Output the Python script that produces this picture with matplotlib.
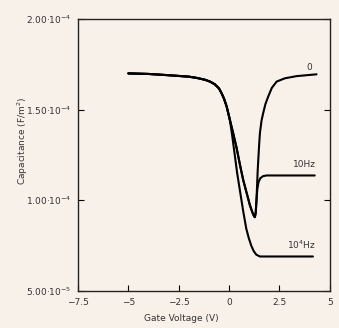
import numpy as np
import matplotlib
matplotlib.use('Agg')
import matplotlib.pyplot as plt

# Gate voltage (V) / capacitance (units of 1e-4 F/m^2)
v_shared = [-5.0, -4.0, -3.0, -2.0, -1.6, -1.2, -0.95, -0.71, -0.5, -0.37, -0.25, -0.12, 0.04]
c_shared = [1.70, 1.697, 1.69, 1.682, 1.675, 1.665, 1.655, 1.640, 1.617, 1.590, 1.56, 1.517, 1.443]

v_0 = v_shared + [0.20, 0.37, 0.55, 0.70, 0.87, 1.03, 1.15, 1.24, 1.28, 1.32, 1.36, 1.42, 1.49,
                  1.53, 1.61, 1.69, 1.80, 1.94, 2.12, 2.36, 2.77, 3.35, 4.34]
c_0 = c_shared + [1.371, 1.29, 1.19, 1.112, 1.041, 0.974, 0.935, 0.912, 0.907, 0.93, 1.002, 1.167,
                  1.305, 1.371, 1.44, 1.48, 1.53, 1.572, 1.62, 1.655, 1.673, 1.685, 1.695]

v_10 = v_shared + [0.20, 0.37, 0.55, 0.70, 0.87, 1.03, 1.15, 1.24, 1.28, 1.32, 1.36, 1.40, 1.46,
                   1.55, 1.68, 1.86, 4.25]
c_10 = c_shared + [1.371, 1.29, 1.19, 1.112, 1.041, 0.974, 0.935, 0.912, 0.907, 0.93, 1.002, 1.06,
                   1.10, 1.122, 1.133, 1.137, 1.137]

v_1e4 = v_shared + [0.15, 0.27, 0.40, 0.55, 0.70, 0.85, 0.98, 1.10, 1.22, 1.35, 1.53, 4.16]
c_1e4 = c_shared + [1.36, 1.26, 1.15, 1.045, 0.94, 0.845, 0.79, 0.75, 0.72, 0.70, 0.69, 0.69]

curve_labels = ['0', '10Hz', '10$^4$Hz']
label_pos = [(4.0, 1.735), (3.72, 1.195), (3.58, 0.754)]

x_ticks = [-7.5, -5, -2.5, 0, 2.5, 5]
x_ticklabels = ['\u22127.5', '\u22125', '\u22122.5', '0', '2.5', '5']
y_ticks = [0.5, 1.0, 1.5, 2.0]
y_ticklabels = ['5.00\u00b710$^{-5}$', '1.00\u00b710$^{-4}$', '1.50\u00b710$^{-4}$', '2.00\u00b710$^{-4}$']

bg = '#f8f1ea'
txt = '#333333'

fig = plt.figure(figsize=(3.39, 3.28), dpi=100, facecolor=bg)
ax = fig.add_axes([0.230, 0.113, 0.743, 0.829], facecolor=bg)

for v, c in [(v_0, c_0), (v_10, c_10), (v_1e4, c_1e4)]:
    ax.plot(v, np.array(c) * 1e-4, color='black', linewidth=1.5,
            solid_capstyle='round', solid_joinstyle='round')

for lab, (x, y) in zip(curve_labels, label_pos):
    ax.text(x, y * 1e-4, lab, fontsize=6.5, color=txt, ha='center', va='center')

ax.set_xlim(-7.5, 5)
ax.set_ylim(0.5e-4, 2.0e-4)
ax.set_xticks(x_ticks)
ax.set_xticklabels(x_ticklabels)
ax.set_yticks(np.array(y_ticks) * 1e-4)
ax.set_yticklabels(y_ticklabels)
ax.tick_params(direction='in', length=4, width=0.8, labelsize=6.5, labelcolor=txt, right=True)
ax.tick_params(axis='x', pad=5)
ax.tick_params(axis='y', pad=5)

for s in ax.spines.values():
    s.set_linewidth(1.0)
    s.set_color('#222222')

ax.set_xlabel('Gate Voltage (V)', fontsize=6.5, color=txt)
ax.xaxis.set_label_coords(0.41, -0.085)
ax.set_ylabel('Capacitance (F/m$^2$)', fontsize=6.5, color=txt)
ax.yaxis.set_label_coords(-0.19, 0.55)

fig.savefig('out.png', dpi=100, facecolor=bg)
